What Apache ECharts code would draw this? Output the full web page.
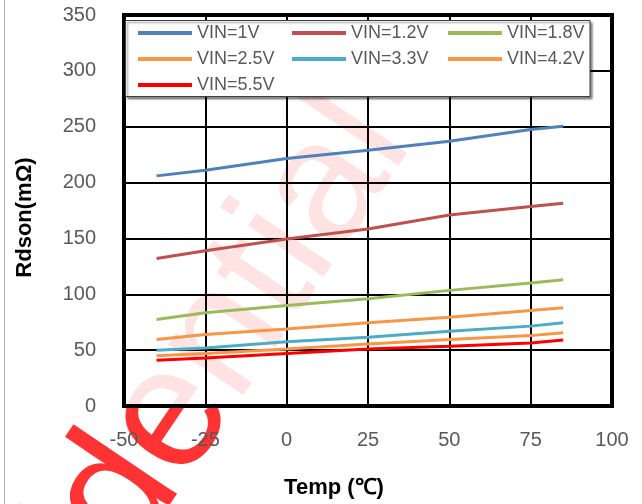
<!DOCTYPE html>
<html>
<head>
<meta charset="utf-8">
<script src="https://cdn.jsdelivr.net/npm/echarts@6/dist/echarts.min.js"></script>
<style>
html,body{margin:0;padding:0;background:#fff;}
#chart{width:642px;height:504px;}
</style>
</head>
<body>
<div id="chart"></div>
<script>
// Temperatures (°C) at which values were read
const temps = [-40, -25, 0, 25, 50, 75, 85];
// Rdson (mΩ) per input voltage
const vin1V   = [206, 211, 221.5, 229, 237, 247.5, 250.5];
const vin1_2V = [132, 139, 149.5, 158.5, 171, 178.5, 181.5];
const vin1_8V = [77.5, 83.5, 90, 96, 103.5, 110, 113];
const vin2_5V = [59.5, 64, 69, 74.5, 79.5, 85.5, 88];
const vin3_3V = [50, 52, 57.5, 61.5, 67, 71.5, 74.5];
const vin4_2V = [45, 47, 51, 55.5, 59.5, 63, 65.5];
const vin5_5V = [41, 43, 47, 51, 53.5, 56.5, 59];
const seriesNames = ['VIN=1V','VIN=1.2V','VIN=1.8V','VIN=2.5V','VIN=3.3V','VIN=4.2V','VIN=5.5V'];
const seriesColors = ['#4F81BD','#C0504D','#9BBB59','#F79646','#4BACC6','#F79646','#FF0000'];
const seriesValues = [vin1V, vin1_2V, vin1_8V, vin2_5V, vin3_3V, vin4_2V, vin5_5V];

const chart = echarts.init(document.getElementById('chart'), null, {renderer:'canvas'});
const FONT = '"Liberation Sans", Arial, sans-serif';

const series = seriesNames.map((n, i) => ({
  name: n,
  type: 'line',
  data: temps.map((t, k) => [t, seriesValues[i][k]]),
  showSymbol: false,
  symbol: 'none',
  color: seriesColors[i],
  lineStyle: {width: 3, color: seriesColors[i]},
  animation: false,
  z: 2
}));

function mkLegend(data, left) {
  return {
    data: data, left: left, top: 23, orient: 'vertical', padding: 0,
    itemWidth: 54, itemHeight: 4, itemGap: 6, icon: 'rect',
    textStyle: {fontFamily: FONT, fontSize: 18, color: '#595959', lineHeight: 20},
    z: 10
  };
}

chart.setOption({
  animation: false,
  backgroundColor: '#fff',
  grid: {
    left: 124, right: 30, top: 15, bottom: 96.5,
    show: true, borderColor: '#000', borderWidth: 4,
    backgroundColor: 'rgba(255,255,255,0.86)'
  },
  xAxis: {
    type: 'value', min: -50, max: 100, interval: 25,
    axisLine: {show: false}, axisTick: {show: false},
    splitLine: {show: true, lineStyle: {color: '#000', width: 2}},
    axisLabel: {fontFamily: FONT, fontSize: 20, color: '#595959', margin: 24},
    name: 'Temp (℃)', nameLocation: 'middle', nameGap: 71,
    nameTextStyle: {fontFamily: FONT, fontSize: 22, fontWeight: 'bold', color: '#000', padding: [0, 68, 0, 0]}
  },
  yAxis: {
    type: 'value', min: 0, max: 350, interval: 50,
    axisLine: {show: false}, axisTick: {show: false},
    splitLine: {show: true, lineStyle: {color: '#000', width: 2}},
    axisLabel: {fontFamily: FONT, fontSize: 20, color: '#595959', margin: 28},
    name: 'Rdson(mΩ)', nameLocation: 'middle', nameGap: 88,
    nameTextStyle: {fontFamily: FONT, fontSize: 22, fontWeight: 'bold', color: '#000', padding: [0, 14, 0, 0]}
  },
  legend: [
    mkLegend(['VIN=1V','VIN=2.5V','VIN=5.5V'], 138),
    mkLegend(['VIN=1.2V','VIN=3.3V'], 292),
    mkLegend(['VIN=1.8V','VIN=4.2V'], 448)
  ],
  graphic: [
    {
      type: 'text', z: -1, silent: true,
      x: 374, y: 117, rotation: 0.977,
      style: {
        text: 'Confidential', fontFamily: FONT, fontSize: 172,
        fill: 'rgba(255,0,0,0.8)',
        align: 'right', verticalAlign: 'middle',
        textAlign: 'right', textVerticalAlign: 'middle'
      }
    },
    {
      type: 'rect', z: 3, silent: true,
      shape: {x: 125.5, y: 20.5, width: 464.5, height: 76},
      style: {fill: '#fff', stroke: '#3f3f3f', lineWidth: 1,
        shadowColor: 'rgba(0,0,0,0.45)', shadowOffsetX: 2, shadowOffsetY: 2, shadowBlur: 2}
    },
    {
      type: 'line', z: 1, silent: true,
      shape: {x1: 4.5, y1: 0, x2: 4.5, y2: 504},
      style: {stroke: '#b0b0b0', lineWidth: 1}
    }
  ],
  series: series
});
</script>
</body>
</html>
